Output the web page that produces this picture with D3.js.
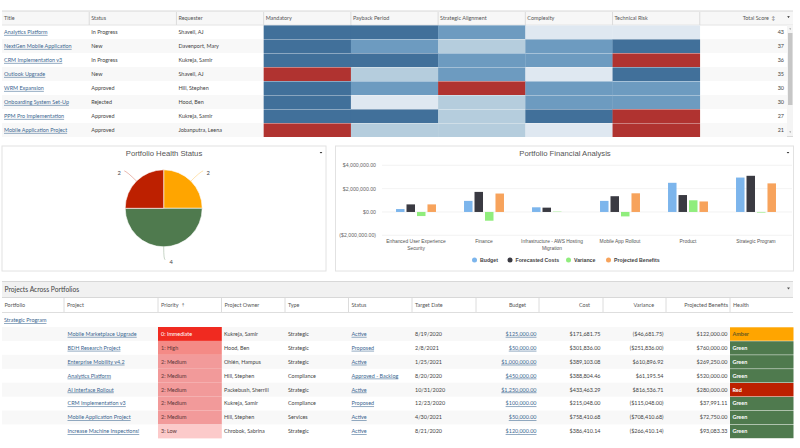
<!DOCTYPE html>
<html><head><meta charset="utf-8">
<script src="https://cdn.jsdelivr.net/npm/d3@7/dist/d3.min.js"></script>
<style>html,body{margin:0;padding:0;background:#fff;overflow:hidden}svg{display:block}text{font-family:Lato,"Open Sans",sans-serif}</style>
</head><body><svg id="c" width="800" height="448"></svg>
<script>
// ---- Top scorecard ----
const topHeaders = ["Title","Status","Requester","Mandatory","Payback Period","Strategic Alignment","Complexity","Technical Risk"];
const topTitles = ["Analytics Platform","NextGen Mobile Application","CRM Implementation v3","Outlook Upgrade","WRM Expansion","Onboarding System Set-Up","PPM Pro Implementation","Mobile Application Project"];
const topStatus = ["In Progress","New","In Progress","New","Approved","Rejected","Approved","Approved"];
const topRequester = ["Shavell, AJ","Davenport, Mary","Kukreja, Samir","Shavell, AJ","Hill, Stephen","Hood, Ben","Kukreja, Samir","Jobanputra, Leena"];
const mandatory = ["dark","dark","dark","red","dark","dark","dark","red"];
const payback = ["dark","mid","dark","light","mid","pale","dark","light"];
const alignment = ["mid","light","mid","mid","red","light","light","light"];
const complexity = ["pale","mid","mid","pale","mid","mid","dark","pale"];
const techRisk = ["pale","dark","red","dark","mid","mid","red","red"];
const totalScore = [43,37,36,35,30,30,27,21];
// ---- Pie ----
const healthLabels = ["Amber","Green","Red"];
const healthCounts = [2,4,2];
// ---- Financial bars ----
const finCategories = [["Enhanced User Experience","Security"],["Finance"],["Infrastructure - AWS Hosting","Migration"],["Mobile App Rollout"],["Product"],["Strategic Program"]];
const finSeries = ["Budget","Forecasted Costs","Variance","Projected Benefits"];
const budgetVals = [0.25,0.95,0.4,0.95,2.5,2.95];
const forecastVals = [0.65,1.72,0.37,1.35,1.45,3.1];
const varianceVals = [-0.35,-0.75,0.03,-0.38,1.0,-0.05];
const benefitVals = [0.65,1.58,0,1.6,0.9,2.45];
const finTicks = [4,2,0,-2];
const finTickLabels = ["$4,000,000.00","$2,000,000.00","$0.00","($2,000,000.00)"];
// ---- Bottom table ----
const botHeaders = ["Portfolio","Project","Priority","Project Owner","Type","Status","Target Date","Budget","Cost","Variance","Projected Benefits","Health"];
const botProject = ["Mobile Marketplace Upgrade","BDH Research Project","Enterprise Mobility v4.2","Analytics Platform","AI Interface Rollout","CRM Implementation v3","Mobile Application Project","Increase Machine Inspections!"];
const botPriority = ["0: Immediate","1: High","2: Medium","2: Medium","2: Medium","2: Medium","2: Medium","3: Low"];
const botOwner = ["Kukreja, Samir","Hood, Ben","Ohlén, Hampus","Hill, Stephen","Packebush, Sherrill","Kukreja, Samir","Hill, Stephen","Chrobok, Sabrina"];
const botType = ["Strategic","Strategic","Strategic","Compliance","Strategic","Compliance","Services","Strategic"];
const botStatus = ["Active","Proposed","Active","Approved - Backlog","Active","Proposed","Active","Active"];
const botTarget = ["8/19/2020","2/8/2021","1/25/2021","8/20/2020","10/31/2020","12/23/2020","4/30/2021","8/21/2020"];
const botBudget = ["$125,000.00","$50,000.00","$1,000,000.00","$450,000.00","$1,250,000.00","$100,000.00","$50,000.00","$120,000.00"];
const botCost = ["$171,681.75","$301,836.00","$389,103.08","$388,804.46","$433,463.29","$215,048.00","$758,410.68","$386,410.14"];
const botVariance = ["($46,681.75)","($251,836.00)","$610,896.92","$61,195.54","$816,536.71","($115,048.00)","($708,410.68)","($266,410.14)"];
const botBenefits = ["$122,000.00","$760,000.00","$269,250.00","$520,000.00","$280,000.00","$37,991.11","$72,750.00","$93,083.33"];
const botHealth = ["Amber","Green","Green","Green","Red","Green","Green","Green"];

const svg = d3.select("#c");
const FS = 5.45, TXT = "#444", LINK = "#3a6690", GRID = "#dcdcdc", SANS = "Liberation Sans";
const heat = d3.scaleOrdinal(["dark","mid","light","pale","red"],["#41709a","#6d9bc0","#b5cddd","#dfe8f1","#b03330"]);
const healthColor = d3.scaleOrdinal(["Amber","Green","Red"],["#ffa500","#4f7a4e","#bd2000"]);
const prioColor = d3.scaleOrdinal(["0: Immediate","1: High","2: Medium","3: Low"],["#f02a20","#f48a86","#f29a9a","#fccaca"]);
function txt(g,x,y,s,o={}){return g.append("text").attr("x",x).attr("y",y).attr("dy","0.35em").attr("font-size",o.size||FS).attr("fill",o.fill||TXT).attr("text-anchor",o.anchor||"start").attr("font-weight",o.weight||null).attr("text-decoration",o.link?"underline":null).style("font-family",o.font||null).text(s);}
function tri(g,x,y,s=1.5,c="#222"){g.append("path").attr("d",`M${x-s},${y-s*.6}L${x+s},${y-s*.6}L${x},${y+s*.7}Z`).attr("fill",c);}

// ===== top table =====
(function(){
  const g = svg.append("g");
  const cols = topHeaders.concat(["Total Score"]);
  const x = d3.scaleBand().domain(cols).range([2,787]);
  const y = d3.scaleBand().domain(d3.range(topTitles.length)).range([25,137]);
  g.append("rect").attr("x",2).attr("y",11).attr("width",791).attr("height",14).attr("fill","#f7f7f7");
  g.append("line").attr("x1",2).attr("x2",793).attr("y1",11).attr("y2",11).attr("stroke","#d8d8d8");
  g.append("line").attr("x1",2).attr("x2",793).attr("y1",25).attr("y2",25).attr("stroke","#e4e4e4");
  g.append("line").attr("x1",2).attr("x2",793).attr("y1",136.5).attr("y2",136.5).attr("stroke","#d8d8d8");
  g.selectAll(".st").data(d3.range(1,8,2)).join("rect").attr("x",2).attr("width",785).attr("y",d=>y(d)).attr("height",y.bandwidth()).attr("fill","#f8f8f8");
  cols.forEach((c,i)=>{
    if(i) g.append("line").attr("x1",x(c)).attr("x2",x(c)).attr("y1",12).attr("y2",25).attr("stroke",GRID);
    if(c==="Total Score") return;
    txt(g,x(c)+2,18.3,c,{fill:"#555"});
  });
  txt(g,769,18.3,"Total Score",{anchor:"end",fill:"#555"});
  txt(g,771.5,18.3,"↕",{fill:"#555",size:5});
  tri(g,788.5,17,1.3);
  topTitles.forEach((t,i)=>{
    const cy=y(i)+y.bandwidth()/2;
    txt(g,x("Title")+2,cy,t,{fill:LINK,link:true});
    txt(g,x("Status")+2,cy,topStatus[i]);
    txt(g,x("Requester")+2,cy,topRequester[i]);
    txt(g,784,cy,totalScore[i],{anchor:"end"});
  });
  [["Mandatory",mandatory],["Payback Period",payback],["Strategic Alignment",alignment],["Complexity",complexity],["Technical Risk",techRisk]].forEach(([c,vals])=>{
    g.selectAll(null).data(vals).join("rect").attr("x",x(c)).attr("width",x.bandwidth()+.3)
      .attr("y",(d,i)=>y(i)+.4).attr("height",y.bandwidth()-.4).attr("fill",d=>heat(d));
  });
  g.append("rect").attr("x",787).attr("y",25).attr("width",6).attr("height",111).attr("fill","#f4f4f4");
  g.append("rect").attr("x",788).attr("y",33).attr("width",4.5).attr("height",72).attr("fill","#c6c6c6");
  tri(g,790.2,29,1,"#888"); tri(g,790.2,132,1,"#888");
})();

// panels
[[2,146,324,125],[335.5,146,458,125]].forEach(p=>svg.append("rect").attr("x",p[0]).attr("y",p[1]).attr("width",p[2]).attr("height",p[3]).attr("fill","#fff").attr("stroke","#e2e2e2").attr("stroke-width",1));

// ===== pie =====
(function(){
  const g = svg.append("g").attr("transform","translate(163.7,208.3)");
  const R=38.5;
  txt(svg,164,153.7,"Portfolio Health Status",{anchor:"middle",size:7.7,fill:"#555",font:SANS});
  tri(svg,321,152.7,1.3);
  const arcs=d3.pie().sort(null)(healthCounts);
  const arc=d3.arc().innerRadius(0).outerRadius(R);
  g.selectAll("path").data(arcs).join("path").attr("d",arc).attr("fill",(d,i)=>healthColor(healthLabels[i])).attr("stroke","#fff").attr("stroke-width",.6);
  arcs.forEach((a,i)=>{
    const mid=(a.startAngle+a.endAngle)/2;
    const p=(r)=>[Math.sin(mid)*r,-Math.cos(mid)*r];
    const [x0,y0]=p(R), [x1,y1]=p(R+13);
    const vertical=Math.abs(Math.sin(mid))<.01;
    const side=vertical?1:Math.sign(Math.sin(mid));
    const lx=x1+side*(vertical?1.5:3);
    g.append("path").attr("d",`M${x0},${y0}Q${x1},${y1} ${lx},${vertical?y1:y1-1}`).attr("fill","none").attr("stroke",d3.color(healthColor(healthLabels[i])).copy({opacity:.45})).attr("stroke-width",.7);
    txt(g,lx+side*(vertical?6:5),y1+(vertical?2:1),healthCounts[i],{anchor:"middle",size:5.8});
  });
})();

// ===== bars =====
(function(){
  const g=svg.append("g");
  const y=d3.scaleLinear().domain([-2,4]).range([235.3,165.3]);
  const names=finCategories.map(d=>d.join(" "));
  const x0=d3.scaleBand().domain(names).range([382,790]);
  const x1=d3.scaleBand().domain(finSeries).range([0,41]).paddingInner(.19).paddingOuter(.05);
  const color=d3.scaleOrdinal(finSeries,["#7cb5ec","#3a3a42","#90ed7d","#f7a35c"]);
  txt(g,565,153.7,"Portfolio Financial Analysis",{anchor:"middle",size:7.7,fill:"#555",font:SANS});
  tri(g,788,152.7,1.3);
  const axis=d3.axisLeft(y).tickValues(finTicks).tickSize(0).tickFormat((d,i)=>finTickLabels[i]);
  const ag=g.append("g").attr("transform","translate(378,0)").call(axis);
  ag.select(".domain").remove();
  ag.selectAll("text").attr("font-size",5.2).attr("fill","#666").attr("x",-2).style("font-family",SANS);
  g.selectAll(".gl").data(finTicks).join("line").attr("x1",382).attr("x2",792).attr("y1",d=>y(d)).attr("y2",d=>y(d)).attr("stroke","#eeeeee").attr("stroke-width",.7);
  [budgetVals,forecastVals,varianceVals,benefitVals].forEach((vals,s)=>{
    const name=finSeries[s];
    g.selectAll(null).data(vals).join("rect")
      .attr("x",(d,i)=>x0(names[i])+x0.bandwidth()/2-20.5+x1(name)).attr("width",x1.bandwidth())
      .attr("y",d=>y(Math.max(d,0))).attr("height",d=>Math.abs(y(d)-y(0))).attr("fill",color(name));
  });
  finCategories.forEach((lines,i)=>{
    lines.forEach((l,j)=>txt(g,x0(names[i])+x0.bandwidth()/2,241.7+j*6.1,l,{anchor:"middle",size:4.9,fill:"#555",font:SANS}));
  });
  const lx=d3.scaleOrdinal(finSeries,[474.5,510,568.5,608.5]);
  finSeries.forEach(n=>{
    g.append("circle").attr("cx",lx(n)).attr("cy",260).attr("r",2.5).attr("fill",color(n));
    txt(g,lx(n)+5.5,260.2,n,{size:5.2,fill:"#444",weight:700,font:SANS});
  });
})();

// ===== bottom table =====
(function(){
  const g=svg.append("g");
  const starts=d3.scaleOrdinal(botHeaders,[2,64,158,221.5,285,348.5,412,476,539,603,666,730]);
  const ends=d3.scaleOrdinal(botHeaders,botHeaders.map((h,i)=>i<11?starts(botHeaders[i+1]):793.5));
  const y=d3.scaleBand().domain(d3.range(botProject.length)).range([327,438.4]);
  g.append("rect").attr("x",2).attr("y",281).attr("width",791).attr("height",16).attr("fill","#f1f1f1");
  g.append("line").attr("x1",2).attr("x2",793).attr("y1",281.5).attr("y2",281.5).attr("stroke","#d8d8d8");
  g.append("line").attr("x1",2).attr("x2",793).attr("y1",297.5).attr("y2",297.5).attr("stroke","#d8d8d8");
  g.append("line").attr("x1",2).attr("x2",793).attr("y1",312.5).attr("y2",312.5).attr("stroke","#dedede");
  txt(g,4.5,289.5,"Projects Across Portfolios",{size:6.7,fill:"#444"});
  tri(g,788.5,288.5,1.5,"#555");
  g.selectAll(".st").data(d3.range(0,8,2)).join("rect").attr("x",2).attr("width",791).attr("y",d=>y(d)).attr("height",y.bandwidth()).attr("fill","#f8f8f8");
  botHeaders.forEach((h,i)=>{
    if(i) g.append("line").attr("x1",starts(h)).attr("x2",starts(h)).attr("y1",298).attr("y2",312).attr("stroke",GRID);
    if(h==="Budget"||h==="Cost"||h==="Variance") txt(g,ends(h)-(h==="Variance"?12:13),305.3,h,{anchor:"end",fill:"#555"});
    else if(h==="Projected Benefits") txt(g,ends(h)-2,305.3,h,{anchor:"end",fill:"#555"});
    else txt(g,starts(h)+3-(i==0?.5:0),305.3,h,{fill:"#555"});
  });
  txt(g,180.5,305.3,"⇡",{size:5.2,fill:"#555"});
  txt(g,4,320.2,"Strategic Program",{fill:LINK,link:true});
  const cy=i=>y(i)+y.bandwidth()/2;
  g.selectAll(null).data(botPriority).join("rect").attr("x",starts("Priority")).attr("width",ends("Priority")-starts("Priority")+.3).attr("y",(d,i)=>y(i)).attr("height",y.bandwidth()).attr("fill",d=>prioColor(d));
  g.selectAll(null).data(botHealth).join("rect").attr("x",starts("Health")).attr("width",63.5).attr("y",(d,i)=>y(i)+.3).attr("height",y.bandwidth()-.5).attr("fill",d=>healthColor(d));
  const colData=[["Project",botProject,1],["Priority",botPriority,0],["Project Owner",botOwner,0],["Type",botType,0],["Status",botStatus,1],["Target Date",botTarget,0]];
  colData.forEach(([h,vals,link])=>vals.forEach((v,i)=>{
    const f=h==="Priority"?(i===0?"#fff":"#5a3535"):(link?LINK:TXT);
    txt(g,starts(h)+3+(h==="Project"?.5:0)-(h==="Project Owner"?.5:0),cy(i),v,{fill:f,link:!!link});
  }));
  [["Budget",botBudget,1],["Cost",botCost,0],["Variance",botVariance,0],["Projected Benefits",botBenefits,0]].forEach(([h,vals,link])=>vals.forEach((v,i)=>
    txt(g,ends(h)-2.5,cy(i),v,{anchor:"end",fill:link?LINK:TXT,link:!!link})));
  botHealth.forEach((v,i)=>txt(g,starts("Health")+2.5,cy(i),v,{fill:v==="Amber"?"#6b5a20":"#fff",weight:700}));
})();
</script></body></html>
